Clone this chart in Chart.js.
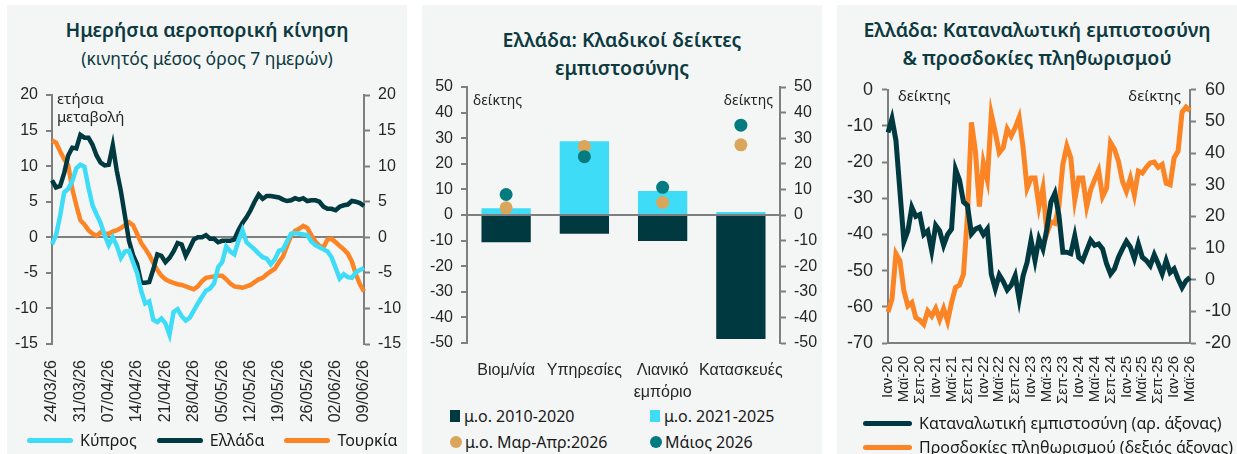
<!DOCTYPE html>
<html>
<head>
<meta charset="utf-8">
<script src="https://cdn.jsdelivr.net/npm/chart.js@4.4.1/dist/chart.umd.min.js"></script>
<style>
  body { margin: 0; width: 1237px; height: 454px; background: #fff; position: relative; overflow: hidden; }
  .panel { position: absolute; top: 5px; width: 400px; height: 449px; background: #f4f6f6; }
  .title { position: absolute; left: 0; width: 100%; text-align: center; color: #0d3a3f;
           font-family: "Noto Sans", sans-serif; font-weight: 600; font-size: 19.5px; line-height: 28px; }
  .sub { font-weight: 400; font-size: 17.5px; }
  canvas { position: absolute; left: 0; }
  .legend { position: absolute; font-family: "Noto Sans", sans-serif; font-size: 16px; color: #1a1a1a; }
  .legend .item { display: flex; align-items: center; white-space: nowrap; height: 24px; }
  .legend .line { display: inline-block; height: 5px; border-radius: 3px; }
  .legend .sq { display: inline-block; width: 10px; height: 12px; margin-right: 4px; }
  .legend .dot { display: inline-block; width: 12px; height: 12px; border-radius: 50%; margin-right: 3px; }
</style>
</head>
<body>

<div class="panel" style="left:7px">
  <div class="title" style="top:11px">Ημερήσια αεροπορική κίνηση</div>
  <div class="title sub" style="top:39px">(κινητός μέσος όρος 7 ημερών)</div>
  <canvas id="chart1" width="400" height="356" style="top:72px"></canvas>
  <div class="legend" id="legend1" style="left:20px; top:423px; display:flex; gap:20px"></div>
</div>

<div class="panel" style="left:422px">
  <div class="title" style="top:21px">Ελλάδα: Κλαδικοί δείκτες<br>εμπιστοσύνης</div>
  <canvas id="chart2" width="400" height="334" style="top:64px"></canvas>
  <div class="legend" id="legend2" style="left:28px; top:399px; display:grid; grid-template-columns:200px 170px; row-gap:2px"></div>
</div>

<div class="panel" style="left:837px">
  <div class="title" style="top:11px">Ελλάδα: Καταναλωτική εμπιστοσύνη<br>&amp; προσδοκίες πληθωρισμού</div>
  <canvas id="chart3" width="400" height="345" style="top:65px"></canvas>
  <div class="legend" id="legend3" style="left:26px; top:406px"></div>
</div>

<script>
// --- panel 1: daily air traffic, yoy %, 7-day moving average
const dayStart = new Date(2026, 2, 24);
const dayCount = 78;
const dayLabels = [];
for (let i = 0; i < dayCount; i++) {
  const d = new Date(dayStart.getFullYear(), dayStart.getMonth(), dayStart.getDate() + i);
  dayLabels.push(String(d.getDate()).padStart(2, '0') + '/' + String(d.getMonth() + 1).padStart(2, '0') + '/26');
}
const cyprus = [-1.0, 0.3, 3.0, 6.3, 6.8, 7.9, 9.7, 10.2, 9.9, 7.0,
  4.5, 3.2, 2.0, 0.3, -1.1, 0.0, -1.2, -2.9, -2.0, -1.9,
  -3.5, -5.0, -7.5, -9.3, -9.0, -11.6, -11.9, -11.4, -12.1, -13.7,
  -10.5, -10.1, -11.1, -11.7, -11.3, -10.3, -9.3, -8.4, -7.5, -7.2,
  -6.5, -4.2, -3.5, -1.3, -2.0, -2.4, -0.5, 1.0, -0.7, -1.2,
  -1.7, -2.3, -2.8, -3.0, -3.8, -3.1, -1.9, -1.7, -0.6, 0.5,
  0.6, 0.5, 0.4, 0.3, -0.6, -1.1, -1.4, -1.7, -2.0, -2.8,
  -4.3, -5.8, -5.2, -5.6, -5.7, -4.9, -4.6, -4.3];
const greece = [8.0, 7.0, 7.2, 9.0, 11.5, 12.6, 12.5, 14.4, 14.0, 14.0,
  13.0, 11.5, 10.5, 10.1, 10.2, 12.9, 9.3, 6.5, 3.0, -0.5,
  -2.5, -3.8, -6.4, -6.4, -6.3, -4.5, -2.4, -2.6, -3.5, -2.9,
  -2.0, -0.8, -1.0, -2.6, -1.5, -0.3, 0.0, 0.0, 0.3, -0.2,
  -0.2, -0.7, -0.5, -0.5, -0.5, -0.3, 1.0, 2.0, 2.8, 3.8,
  5.0, 6.0, 5.4, 5.8, 5.8, 5.7, 5.6, 5.3, 5.1, 5.2,
  5.5, 5.3, 5.5, 5.1, 5.2, 5.2, 5.0, 4.3, 4.0, 4.0,
  3.8, 4.3, 4.5, 4.6, 5.1, 5.0, 4.8, 4.4];
const turkey = [13.6, 13.3, 12.1, 11.0, 10.1, 6.8, 4.5, 2.4, 1.8, 1.0,
  0.5, 0.2, 0.7, 0.5, 0.5, 0.8, 1.0, 1.3, 1.7, 2.1,
  1.7, 0.5, -0.8, -1.6, -2.5, -3.6, -4.6, -5.4, -5.9, -6.2,
  -6.4, -6.6, -6.7, -6.9, -7.1, -7.3, -6.9, -6.2, -5.7, -5.6,
  -5.5, -5.4, -5.4, -5.9, -6.5, -6.9, -7.0, -7.1, -6.9, -6.7,
  -6.3, -5.9, -5.7, -5.2, -4.8, -4.4, -3.5, -2.7, -1.2, 0.2,
  0.9, 1.2, 1.6, 1.3, 0.3, -0.6, -1.2, -1.4, -0.3, -0.2,
  -0.7, -1.2, -1.7, -2.3, -3.4, -5.2, -6.6, -7.6];

// --- panel 2: sector confidence indicators
const sectors = ['Βιομ/νία', 'Υπηρεσίες', ['Λιανικό', 'εμπόριο'], 'Κατασκευές'];
const avg2010_2020 = [-10.6, -7.3, -10.2, -48.4];
const avg2021_2025 = [2.6, 28.8, 9.4, 1.2];
const avgMarApr2026 = [2.8, 26.8, 4.9, 27.4];
const may2026 = [8.0, 22.8, 10.8, 35.1];

// --- panel 3: consumer confidence & inflation expectations, Jan-20 .. May-26
const monthNames = ['Ιαν', 'Φεβ', 'Μαρ', 'Απρ', 'Μαϊ', 'Ιουν', 'Ιουλ', 'Αυγ', 'Σεπ', 'Οκτ', 'Νοε', 'Δεκ'];
const monthLabels = [];
for (let i = 0; i < 77; i++) monthLabels.push(monthNames[i % 12] + '-' + (20 + Math.floor(i / 12)));
const consumerConf = [-11.8, -8.0, -14.0, -28.0, -42.0, -39.0, -32.5, -35.0, -34.5, -40.0,
  -39.0, -44.5, -37.5, -39.0, -43.0, -40.0, -38.5, -22.0, -25.0, -31.0,
  -32.0, -39.8, -38.5, -38.0, -40.0, -38.5, -51.0, -55.0, -51.2, -53.0,
  -55.3, -54.0, -51.4, -57.9, -51.4, -47.7, -41.6, -47.2, -41.2, -44.0,
  -38.4, -31.0, -28.6, -34.6, -44.9, -44.9, -45.3, -40.4, -46.3, -47.2,
  -44.4, -41.6, -43.0, -42.6, -44.0, -48.1, -50.9, -49.5, -46.3, -44.0,
  -41.9, -43.5, -46.7, -42.6, -46.3, -47.2, -48.6, -45.6, -48.1, -50.9,
  -47.2, -50.5, -49.5, -52.3, -54.7, -52.8, -51.9];
const inflExp = [-10.2, -6.2, 8.2, 6.0, -3.5, -8.3, -7.2, -12.0, -12.8, -14.1,
  -9.9, -11.5, -9.1, -12.6, -9.1, -13.1, -7.2, -2.4, -1.7, 1.8,
  20.4, 49.7, 40.6, 23.1, 36.9, 31.6, 52.3, 46.5, 40.1, 41.7,
  47.6, 45.4, 48.0, 51.3, 41.7, 28.9, 32.1, 32.1, 23.1, 28.9,
  14.6, 18.3, 17.8, 23.1, 36.4, 42.2, 38.5, 25.2, 32.1, 32.1,
  23.1, 28.4, 31.6, 34.5, 26.3, 28.9, 43.3, 41.2, 37.4, 31.1,
  27.9, 32.1, 26.8, 34.3, 33.7, 35.5, 36.9, 37.2, 35.5, 36.4,
  30.5, 30.0, 38.5, 40.6, 52.9, 54.5, 53.4];

const CYAN = '#3edcf7', DARK = '#003a40', ORANGE = '#fb8424', GOLD = '#d9a65c', TEAL = '#037b80';
const AXIS = '#7f7f7f';

Chart.defaults.font.family = '"Liberation Sans", Arial, sans-serif';
Chart.defaults.color = '#262626';
Chart.defaults.animation = false;

// small text labels inside the plot area ("ετήσια μεταβολή", "δείκτης")
const notesPlugin = {
  id: 'notes',
  afterDatasetsDraw(chart, args, opts) {
    const { ctx, chartArea } = chart;
    ctx.save();
    ctx.font = opts.font;
    ctx.fillStyle = '#262626';
    ctx.textBaseline = 'middle';
    (opts.items || []).forEach(n => {
      ctx.textAlign = n.align || 'left';
      const x = n.align === 'right' ? chartArea.right - n.dx : chartArea.left + n.dx;
      ctx.fillText(n.text, x, chartArea.top + n.dy);
    });
    ctx.restore();
  }
};

function yAxis(pos, min, max, step, width, opts) {
  return Object.assign({
    position: pos, min: min, max: max,
    afterFit: s => { s.width = width; },
    border: { color: AXIS, width: 2 },
    grid: { drawOnChartArea: false, tickLength: 6, tickColor: AXIS, tickWidth: 2 },
    ticks: { stepSize: step, padding: 8, font: { size: 16 } }
  }, opts || {});
}

// ---------- chart 1
new Chart(document.getElementById('chart1'), {
  type: 'line',
  data: {
    labels: dayLabels,
    datasets: [
      { label: 'Κύπρος', data: cyprus, borderColor: CYAN, backgroundColor: CYAN },
      { label: 'Ελλάδα', data: greece, borderColor: DARK, backgroundColor: DARK },
      { label: 'Τουρκία', data: turkey, borderColor: ORANGE, backgroundColor: ORANGE }
    ]
  },
  options: {
    responsive: false,
    layout: { padding: { top: 18, left: 0, right: 0, bottom: 0 } },
    elements: { line: { borderWidth: 4.5, tension: 0 }, point: { radius: 0 } },
    scales: {
      x: {
        afterFit: s => { s.height = 89; },
        border: { display: false },
        grid: { display: false },
        ticks: { autoSkip: false, minRotation: 90, maxRotation: 90, padding: 8, font: { size: 16 },
                 callback: (v, i) => i % 7 === 0 ? dayLabels[i] : '' }
      },
      y: yAxis('left', -15, 20, 5, 45, {
        grid: { drawOnChartArea: true, tickLength: 6, tickColor: AXIS, tickWidth: 2, lineWidth: 2,
                color: c => c.tick && c.tick.value === 0 ? AXIS : 'transparent' }
      }),
      y2: yAxis('right', -15, 20, 5, 43)
    },
    plugins: {
      legend: { display: false },
      tooltip: { enabled: false },
      notes: { font: '15px "Noto Sans", sans-serif', items: [
        { text: 'ετήσια', dx: 5, dy: 5 },
        { text: 'μεταβολή', dx: 5, dy: 23 }
      ] }
    }
  },
  plugins: [notesPlugin]
});

// ---------- chart 2
new Chart(document.getElementById('chart2'), {
  type: 'bar',
  data: {
    labels: sectors,
    datasets: [
      { label: 'μ.ο. 2010-2020', data: avg2010_2020, backgroundColor: DARK, grouped: false, order: 3 },
      { label: 'μ.ο. 2021-2025', data: avg2021_2025, backgroundColor: CYAN, grouped: false, order: 2 },
      { type: 'line', label: 'μ.ο. Μαρ-Απρ:2026', data: avgMarApr2026, showLine: false, order: 1,
        pointRadius: 6.5, pointBackgroundColor: GOLD, pointBorderWidth: 0, backgroundColor: GOLD },
      { type: 'line', label: 'Μάιος 2026', data: may2026, showLine: false, order: 0,
        pointRadius: 6.5, pointBackgroundColor: TEAL, pointBorderWidth: 0, backgroundColor: TEAL }
    ]
  },
  options: {
    responsive: false,
    layout: { padding: { top: 18, left: 0, right: 0, bottom: 0 } },
    datasets: { bar: { barPercentage: 0.63, categoryPercentage: 1 } },
    scales: {
      x: {
        afterFit: s => { s.height = 60; },
        border: { display: false },
        grid: { display: false },
        ticks: { autoSkip: false, maxRotation: 0, padding: 8, font: { size: 16, lineHeight: 1.4 } }
      },
      y: yAxis('left', -50, 50, 10, 45, {
        grid: { drawOnChartArea: true, tickLength: 6, tickColor: AXIS, tickWidth: 2, lineWidth: 2,
                color: c => c.tick && c.tick.value === 0 ? AXIS : 'transparent' }
      }),
      y2: yAxis('right', -50, 50, 10, 42)
    },
    plugins: {
      legend: { display: false },
      tooltip: { enabled: false },
      notes: { font: '14px "Noto Sans", sans-serif', items: [
        { text: 'δείκτης', dx: 6, dy: 14 },
        { text: 'δείκτης', dx: 7, dy: 14, align: 'right' }
      ] }
    }
  },
  plugins: [notesPlugin]
});

// ---------- chart 3
new Chart(document.getElementById('chart3'), {
  type: 'line',
  data: {
    labels: monthLabels,
    datasets: [
      { label: 'Καταναλωτική εμπιστοσύνη (αρ. άξονας)', data: consumerConf, borderColor: DARK, backgroundColor: DARK, yAxisID: 'y' },
      { label: 'Προσδοκίες πληθωρισμού (δεξιός άξονας)', data: inflExp, borderColor: ORANGE, backgroundColor: ORANGE, yAxisID: 'y2' }
    ]
  },
  options: {
    responsive: false,
    layout: { padding: { top: 18, left: 0, right: 0, bottom: 0 } },
    elements: { line: { borderWidth: 5, tension: 0 }, point: { radius: 0 } },
    scales: {
      x: {
        afterFit: s => { s.height = 72; },
        border: { color: AXIS, width: 2 },
        grid: { display: false },
        ticks: { autoSkip: false, minRotation: 90, maxRotation: 90, padding: 5, font: { size: 15 },
                 callback: (v, i) => i % 4 === 0 ? monthLabels[i] : '' }
      },
      y: yAxis('left', -70, 0, 10, 51, { ticks: { stepSize: 10, padding: 9, font: { size: 18 } } }),
      y2: yAxis('right', -20, 60, 10, 47, { ticks: { stepSize: 10, padding: 9, font: { size: 18 } } })
    },
    plugins: {
      legend: { display: false },
      tooltip: { enabled: false },
      notes: { font: '15px "Noto Sans", sans-serif', items: [
        { text: 'δείκτης', dx: 10, dy: 7 },
        { text: 'δείκτης', dx: 9, dy: 7, align: 'right' }
      ] }
    }
  },
  plugins: [notesPlugin]
});

// ---------- html legends
function lineItem(color, text, w) {
  return '<div class="item"><span class="line" style="width:' + w + 'px;background:' + color + ';margin-right:7px"></span>' + text + '</div>';
}
document.getElementById('legend1').innerHTML =
  lineItem(CYAN, 'Κύπρος', 46) + lineItem(DARK, 'Ελλάδα', 46) + lineItem(ORANGE, 'Τουρκία', 46);
document.getElementById('legend2').innerHTML =
  '<div class="item"><span class="sq" style="background:' + DARK + '"></span>μ.ο. 2010-2020</div>' +
  '<div class="item"><span class="sq" style="background:' + CYAN + '"></span>μ.ο. 2021-2025</div>' +
  '<div class="item"><span class="dot" style="background:' + GOLD + '"></span>μ.ο. Μαρ-Απρ:2026</div>' +
  '<div class="item"><span class="dot" style="background:' + TEAL + '"></span>Μάιος 2026</div>';
document.getElementById('legend3').innerHTML =
  lineItem(DARK, 'Καταναλωτική εμπιστοσύνη (αρ. άξονας)', 49) + lineItem(ORANGE, 'Προσδοκίες πληθωρισμού (δεξιός άξονας)', 49);
</script>
</body>
</html>
